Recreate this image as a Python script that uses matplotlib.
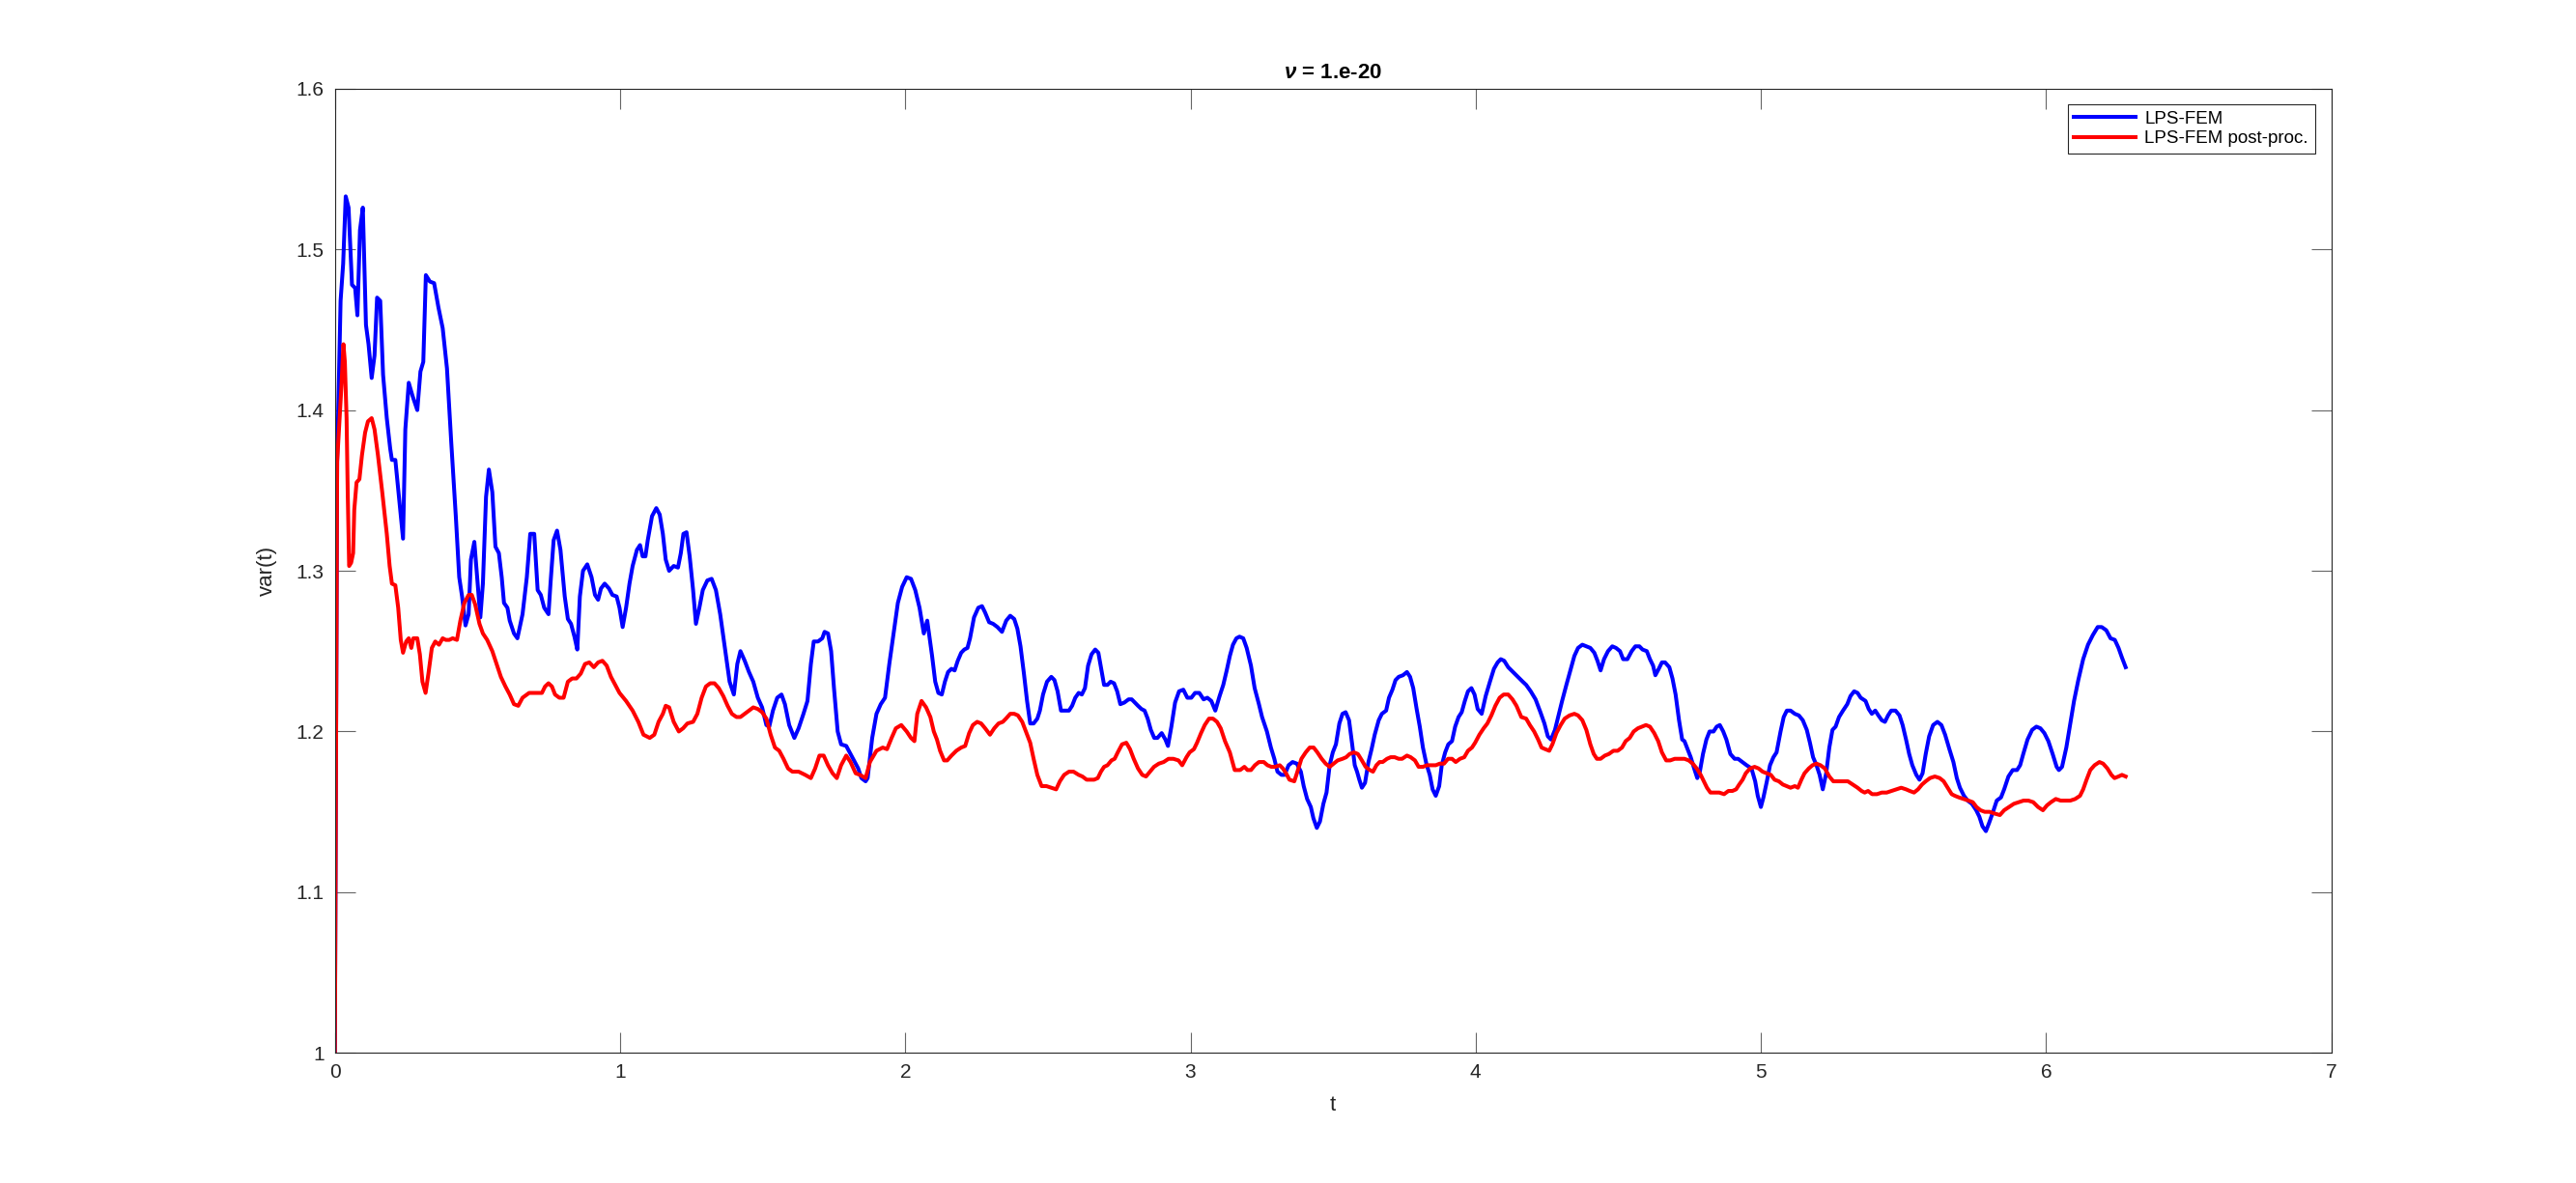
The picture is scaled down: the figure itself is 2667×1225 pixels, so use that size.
import numpy as np
import matplotlib
matplotlib.use("Agg")
import matplotlib.pyplot as plt

plt.rcParams['font.family'] = ['Liberation Sans', 'DejaVu Sans']
plt.rcParams['mathtext.fontset'] = 'custom'
plt.rcParams['mathtext.it'] = 'Liberation Sans:italic:bold'
plt.rcParams['mathtext.rm'] = 'Liberation Sans:bold'

# LPS-FEM  (t, var)
blue_pts = [
    (0, 1.0), (0.008, 1.368), (0.02, 1.468), (0.029, 1.491), (0.038, 1.533), (0.048, 1.526),
    (0.06, 1.478), (0.071, 1.476), (0.079, 1.459), (0.088, 1.512), (0.098, 1.526), (0.109, 1.453),
    (0.118, 1.441), (0.129, 1.42), (0.139, 1.434), (0.148, 1.47), (0.159, 1.468), (0.169, 1.422),
    (0.182, 1.395), (0.194, 1.376), (0.2, 1.369), (0.212, 1.369), (0.227, 1.342), (0.239, 1.32),
    (0.247, 1.388), (0.259, 1.417), (0.272, 1.409), (0.289, 1.4), (0.3, 1.424), (0.31, 1.43),
    (0.319, 1.484), (0.333, 1.48), (0.348, 1.479), (0.363, 1.464), (0.378, 1.451), (0.393, 1.426),
    (0.408, 1.38), (0.424, 1.334), (0.436, 1.296), (0.446, 1.284), (0.458, 1.266), (0.469, 1.273),
    (0.477, 1.307), (0.489, 1.318), (0.499, 1.296), (0.51, 1.271), (0.519, 1.292), (0.53, 1.346),
    (0.54, 1.363), (0.552, 1.349), (0.563, 1.315), (0.575, 1.311), (0.585, 1.296), (0.593, 1.28),
    (0.605, 1.277), (0.613, 1.269), (0.628, 1.261), (0.64, 1.258), (0.658, 1.273), (0.673, 1.296),
    (0.685, 1.323), (0.699, 1.323), (0.711, 1.288), (0.722, 1.285), (0.734, 1.277), (0.749, 1.273),
    (0.756, 1.292), (0.767, 1.319), (0.779, 1.325), (0.791, 1.313), (0.806, 1.284), (0.817, 1.27),
    (0.828, 1.267), (0.84, 1.259), (0.85, 1.251), (0.859, 1.284), (0.87, 1.3), (0.885, 1.304),
    (0.9, 1.296), (0.912, 1.285), (0.923, 1.282), (0.933, 1.289), (0.946, 1.292), (0.961, 1.289),
    (0.973, 1.285), (0.988, 1.284), (0.998, 1.277), (1.009, 1.265), (1.021, 1.277), (1.033, 1.292),
    (1.044, 1.303), (1.059, 1.313), (1.07, 1.316), (1.079, 1.309), (1.089, 1.309), (1.097, 1.319),
    (1.112, 1.334), (1.127, 1.339), (1.139, 1.335), (1.15, 1.323), (1.16, 1.307), (1.172, 1.3),
    (1.188, 1.303), (1.203, 1.302), (1.213, 1.311), (1.222, 1.323), (1.233, 1.324), (1.244, 1.309),
    (1.256, 1.288), (1.266, 1.267), (1.278, 1.277), (1.29, 1.288), (1.306, 1.294), (1.321, 1.295),
    (1.336, 1.288), (1.351, 1.273), (1.369, 1.25), (1.384, 1.231), (1.399, 1.223), (1.411, 1.242),
    (1.422, 1.25), (1.437, 1.244), (1.452, 1.237), (1.467, 1.231), (1.483, 1.221), (1.498, 1.215),
    (1.513, 1.204), (1.523, 1.203), (1.536, 1.213), (1.551, 1.221), (1.566, 1.223), (1.578, 1.217),
    (1.593, 1.204), (1.611, 1.196), (1.626, 1.202), (1.643, 1.211), (1.657, 1.219), (1.669, 1.242),
    (1.679, 1.256), (1.694, 1.256), (1.709, 1.258), (1.717, 1.262), (1.729, 1.261), (1.74, 1.25),
    (1.75, 1.227), (1.763, 1.2), (1.775, 1.192), (1.793, 1.191), (1.808, 1.186), (1.823, 1.181),
    (1.835, 1.177), (1.846, 1.171), (1.861, 1.169), (1.868, 1.171), (1.884, 1.196), (1.899, 1.211),
    (1.914, 1.217), (1.929, 1.221), (1.944, 1.242), (1.959, 1.261), (1.974, 1.28), (1.989, 1.29),
    (2.005, 1.296), (2.02, 1.295), (2.035, 1.288), (2.05, 1.277), (2.065, 1.261),
    (2.077, 1.269), (2.094, 1.247), (2.105, 1.231), (2.116, 1.224), (2.128, 1.223), (2.139, 1.231),
    (2.15, 1.237), (2.162, 1.239), (2.173, 1.238), (2.184, 1.244), (2.196, 1.249), (2.207, 1.251),
    (2.218, 1.252), (2.227, 1.258), (2.241, 1.271), (2.256, 1.277), (2.269, 1.278), (2.28, 1.274),
    (2.294, 1.268), (2.308, 1.267), (2.323, 1.265), (2.339, 1.262), (2.354, 1.269), (2.368, 1.272),
    (2.382, 1.27), (2.393, 1.264), (2.404, 1.253), (2.416, 1.236), (2.427, 1.219), (2.438, 1.205),
    (2.45, 1.205), (2.463, 1.208), (2.472, 1.213), (2.483, 1.223), (2.497, 1.231), (2.512, 1.234),
    (2.523, 1.232), (2.534, 1.225), (2.546, 1.213), (2.557, 1.213), (2.574, 1.213), (2.585, 1.216),
    (2.596, 1.221), (2.608, 1.224), (2.619, 1.223), (2.63, 1.227), (2.641, 1.241), (2.653, 1.248),
    (2.666, 1.251), (2.677, 1.249), (2.688, 1.238), (2.697, 1.229), (2.709, 1.229), (2.72, 1.231),
    (2.732, 1.23), (2.743, 1.225), (2.754, 1.217), (2.768, 1.218), (2.783, 1.22), (2.794, 1.22),
    (2.805, 1.218), (2.816, 1.216), (2.828, 1.214), (2.839, 1.213), (2.85, 1.208), (2.861, 1.201),
    (2.873, 1.196), (2.884, 1.196), (2.899, 1.199), (2.912, 1.195), (2.921, 1.191), (2.933, 1.203),
    (2.946, 1.218), (2.96, 1.225), (2.975, 1.226), (2.989, 1.221), (3.003, 1.221), (3.016, 1.224),
    (3.031, 1.224), (3.046, 1.22), (3.059, 1.221), (3.073, 1.219), (3.087, 1.213), (3.102, 1.222),
    (3.115, 1.229), (3.127, 1.238), (3.138, 1.247), (3.149, 1.254), (3.161, 1.258), (3.172, 1.259),
    (3.185, 1.258), (3.197, 1.252), (3.212, 1.241), (3.225, 1.227), (3.24, 1.217), (3.251, 1.209),
    (3.268, 1.2), (3.282, 1.19), (3.294, 1.183), (3.305, 1.175), (3.319, 1.173), (3.33, 1.173),
    (3.344, 1.179), (3.358, 1.181), (3.373, 1.18), (3.387, 1.175), (3.397, 1.166), (3.409, 1.158),
    (3.422, 1.153), (3.431, 1.146), (3.443, 1.14), (3.454, 1.144), (3.466, 1.155), (3.477, 1.162),
    (3.488, 1.179), (3.499, 1.187), (3.51, 1.192), (3.522, 1.205), (3.533, 1.211), (3.544, 1.212),
    (3.556, 1.207), (3.567, 1.192), (3.576, 1.179), (3.584, 1.175), (3.592, 1.17), (3.601, 1.165),
    (3.612, 1.168), (3.624, 1.181), (3.635, 1.189), (3.646, 1.198), (3.66, 1.207), (3.671, 1.211),
    (3.686, 1.213), (3.696, 1.221), (3.708, 1.226), (3.719, 1.232), (3.73, 1.234), (3.745, 1.235),
    (3.759, 1.237), (3.77, 1.234), (3.781, 1.227), (3.793, 1.214), (3.804, 1.203), (3.815, 1.19),
    (3.827, 1.18), (3.839, 1.173), (3.849, 1.164), (3.86, 1.16), (3.872, 1.166), (3.881, 1.179),
    (3.893, 1.187), (3.904, 1.192), (3.917, 1.194), (3.928, 1.203), (3.94, 1.209), (3.951, 1.212),
    (3.962, 1.219), (3.973, 1.225), (3.985, 1.227), (3.996, 1.223), (4.007, 1.214), (4.021, 1.211),
    (4.035, 1.222), (4.05, 1.231), (4.064, 1.239), (4.077, 1.243), (4.088, 1.245), (4.1, 1.244),
    (4.114, 1.24), (4.131, 1.237), (4.148, 1.234), (4.165, 1.231), (4.177, 1.229), (4.193, 1.225),
    (4.21, 1.22), (4.227, 1.212), (4.241, 1.205), (4.253, 1.197), (4.264, 1.195), (4.278, 1.201),
    (4.289, 1.209), (4.303, 1.219), (4.318, 1.229), (4.332, 1.238), (4.346, 1.247), (4.359, 1.252),
    (4.374, 1.254), (4.388, 1.253), (4.402, 1.252), (4.416, 1.249), (4.427, 1.244), (4.438, 1.238),
    (4.45, 1.245), (4.464, 1.25), (4.479, 1.253), (4.492, 1.252), (4.506, 1.25), (4.517, 1.245),
    (4.532, 1.245), (4.547, 1.25), (4.56, 1.253), (4.574, 1.253), (4.585, 1.251), (4.6, 1.25),
    (4.611, 1.245), (4.622, 1.241), (4.63, 1.235), (4.642, 1.239), (4.653, 1.243), (4.664, 1.243),
    (4.679, 1.24), (4.69, 1.233), (4.701, 1.223), (4.713, 1.207), (4.724, 1.195), (4.732, 1.194),
    (4.743, 1.189), (4.754, 1.184), (4.766, 1.177), (4.777, 1.171), (4.786, 1.175), (4.797, 1.186),
    (4.809, 1.195), (4.82, 1.2), (4.834, 1.2), (4.845, 1.203), (4.856, 1.204), (4.868, 1.2),
    (4.879, 1.195), (4.893, 1.186), (4.908, 1.183), (4.92, 1.183), (4.935, 1.181), (4.95, 1.179),
    (4.967, 1.177), (4.98, 1.169), (4.989, 1.16), (5.0, 1.153), (5.009, 1.159), (5.021, 1.169),
    (5.032, 1.179), (5.044, 1.184), (5.055, 1.187), (5.069, 1.2), (5.08, 1.209), (5.091, 1.213),
    (5.104, 1.213), (5.119, 1.211), (5.133, 1.21), (5.147, 1.207), (5.161, 1.201), (5.172, 1.193),
    (5.183, 1.184), (5.195, 1.179), (5.206, 1.173), (5.217, 1.164), (5.229, 1.174), (5.24, 1.19),
    (5.251, 1.201), (5.262, 1.203), (5.274, 1.209), (5.288, 1.213), (5.303, 1.217), (5.314, 1.222),
    (5.327, 1.225), (5.339, 1.224), (5.35, 1.221), (5.367, 1.219), (5.378, 1.214), (5.389, 1.211),
    (5.401, 1.213), (5.412, 1.21), (5.424, 1.207), (5.435, 1.206), (5.446, 1.21), (5.457, 1.213),
    (5.472, 1.213), (5.486, 1.21), (5.497, 1.204), (5.509, 1.195), (5.52, 1.186), (5.531, 1.179),
    (5.545, 1.173), (5.556, 1.17), (5.567, 1.174), (5.578, 1.186), (5.59, 1.197), (5.604, 1.204),
    (5.619, 1.206), (5.633, 1.204), (5.646, 1.198), (5.661, 1.189), (5.675, 1.181), (5.687, 1.171),
    (5.698, 1.165), (5.712, 1.16), (5.725, 1.157), (5.74, 1.155), (5.755, 1.151), (5.766, 1.147),
    (5.777, 1.141), (5.789, 1.138), (5.8, 1.143), (5.814, 1.15), (5.827, 1.157), (5.842, 1.159),
    (5.853, 1.164), (5.868, 1.172), (5.883, 1.176), (5.898, 1.176), (5.909, 1.179), (5.92, 1.186),
    (5.935, 1.195), (5.951, 1.201), (5.966, 1.203), (5.98, 1.202), (5.994, 1.199), (6.008, 1.194),
    (6.023, 1.186), (6.037, 1.178), (6.045, 1.176), (6.056, 1.178), (6.071, 1.19), (6.085, 1.205),
    (6.098, 1.219), (6.113, 1.232), (6.13, 1.245), (6.147, 1.254), (6.164, 1.26), (6.181, 1.265),
    (6.195, 1.265), (6.211, 1.263), (6.226, 1.258), (6.241, 1.257), (6.254, 1.252), (6.266, 1.246),
    (6.279, 1.24),
]

# LPS-FEM post-proc.  (t, var)
red_pts = [
    (0, 1.0), (0.008, 1.368), (0.015, 1.39), (0.023, 1.415), (0.03, 1.441), (0.035, 1.43),
    (0.041, 1.395), (0.045, 1.349), (0.05, 1.303), (0.057, 1.305), (0.064, 1.311), (0.068, 1.338),
    (0.076, 1.355), (0.086, 1.357), (0.095, 1.372), (0.106, 1.386), (0.116, 1.393), (0.129, 1.395),
    (0.139, 1.388), (0.151, 1.372), (0.166, 1.349), (0.182, 1.323), (0.192, 1.303), (0.2, 1.292),
    (0.212, 1.291), (0.222, 1.277), (0.231, 1.257), (0.239, 1.249), (0.25, 1.256), (0.259, 1.258),
    (0.268, 1.252), (0.275, 1.258), (0.289, 1.258), (0.298, 1.248), (0.307, 1.231), (0.318, 1.224),
    (0.328, 1.236), (0.34, 1.252), (0.352, 1.256), (0.365, 1.254), (0.378, 1.258), (0.389, 1.257),
    (0.401, 1.257), (0.413, 1.258), (0.428, 1.257), (0.44, 1.269), (0.454, 1.28), (0.469, 1.285),
    (0.48, 1.285), (0.492, 1.279), (0.507, 1.267), (0.519, 1.261), (0.534, 1.257), (0.552, 1.25),
    (0.567, 1.242), (0.582, 1.234), (0.598, 1.228), (0.613, 1.223), (0.628, 1.217), (0.643, 1.216),
    (0.658, 1.221), (0.681, 1.224), (0.703, 1.224), (0.726, 1.224), (0.737, 1.228), (0.749, 1.23),
    (0.761, 1.228), (0.772, 1.223), (0.787, 1.221), (0.802, 1.221), (0.817, 1.231), (0.832, 1.233),
    (0.847, 1.233), (0.862, 1.236), (0.877, 1.242), (0.892, 1.243), (0.908, 1.24), (0.923, 1.243),
    (0.938, 1.244), (0.953, 1.241), (0.968, 1.234), (0.983, 1.229), (0.998, 1.224), (1.021, 1.219),
    (1.044, 1.213), (1.064, 1.206), (1.082, 1.198), (1.104, 1.196), (1.12, 1.198), (1.135, 1.206),
    (1.15, 1.211), (1.16, 1.216), (1.172, 1.215), (1.188, 1.206), (1.206, 1.2), (1.221, 1.202),
    (1.236, 1.205), (1.256, 1.206), (1.271, 1.211), (1.286, 1.221), (1.301, 1.228), (1.316, 1.23),
    (1.331, 1.23), (1.346, 1.227), (1.362, 1.222), (1.377, 1.216), (1.392, 1.211), (1.408, 1.209),
    (1.422, 1.209), (1.437, 1.211), (1.452, 1.213), (1.467, 1.215), (1.483, 1.214), (1.498, 1.212),
    (1.513, 1.208), (1.528, 1.198), (1.543, 1.19), (1.558, 1.188), (1.573, 1.183), (1.589, 1.177),
    (1.604, 1.175), (1.626, 1.175), (1.649, 1.173), (1.669, 1.171), (1.684, 1.177), (1.699, 1.185),
    (1.714, 1.185), (1.729, 1.179), (1.745, 1.174), (1.76, 1.171), (1.775, 1.179), (1.793, 1.185),
    (1.808, 1.181), (1.826, 1.174), (1.841, 1.173), (1.861, 1.171), (1.876, 1.181), (1.899, 1.188),
    (1.921, 1.19), (1.936, 1.189), (1.952, 1.196), (1.967, 1.202), (1.986, 1.204), (2.005, 1.2),
    (2.02, 1.196), (2.032, 1.194), (2.042, 1.211), (2.057, 1.219), (2.073, 1.215), (2.088, 1.209),
    (2.1, 1.2), (2.111, 1.195), (2.122, 1.188), (2.136, 1.182), (2.147, 1.182), (2.162, 1.185),
    (2.179, 1.188), (2.196, 1.19), (2.21, 1.191), (2.224, 1.199), (2.237, 1.204), (2.252, 1.206),
    (2.266, 1.205), (2.28, 1.202), (2.297, 1.198), (2.312, 1.202), (2.327, 1.205), (2.342, 1.206),
    (2.353, 1.208), (2.368, 1.211), (2.382, 1.211), (2.395, 1.21), (2.41, 1.206), (2.425, 1.199),
    (2.438, 1.193), (2.45, 1.183), (2.463, 1.173), (2.478, 1.166), (2.495, 1.166), (2.512, 1.165),
    (2.529, 1.164), (2.542, 1.169), (2.557, 1.173), (2.574, 1.175), (2.59, 1.175), (2.608, 1.173),
    (2.621, 1.172), (2.636, 1.17), (2.647, 1.17), (2.662, 1.17), (2.675, 1.171), (2.686, 1.175),
    (2.697, 1.178), (2.709, 1.179), (2.723, 1.182), (2.734, 1.183), (2.745, 1.187), (2.76, 1.192),
    (2.775, 1.193), (2.788, 1.189), (2.801, 1.183), (2.816, 1.177), (2.831, 1.173), (2.844, 1.172),
    (2.858, 1.175), (2.872, 1.178), (2.889, 1.18), (2.906, 1.181), (2.923, 1.183), (2.94, 1.183),
    (2.958, 1.182), (2.971, 1.179), (2.986, 1.184), (2.997, 1.187), (3.012, 1.189), (3.023, 1.193),
    (3.037, 1.199), (3.05, 1.204), (3.065, 1.208), (3.079, 1.208), (3.093, 1.206), (3.106, 1.202),
    (3.121, 1.194), (3.138, 1.187), (3.155, 1.176), (3.174, 1.176), (3.189, 1.178), (3.2, 1.176),
    (3.212, 1.176), (3.226, 1.179), (3.24, 1.181), (3.257, 1.181), (3.27, 1.179), (3.284, 1.178),
    (3.297, 1.178), (3.313, 1.179), (3.324, 1.177), (3.335, 1.174), (3.347, 1.17), (3.364, 1.169),
    (3.375, 1.175), (3.389, 1.183), (3.404, 1.187), (3.418, 1.19), (3.432, 1.19), (3.445, 1.187),
    (3.46, 1.183), (3.474, 1.18), (3.488, 1.178), (3.502, 1.18), (3.516, 1.182), (3.533, 1.183),
    (3.546, 1.184), (3.558, 1.186), (3.573, 1.187), (3.587, 1.186), (3.601, 1.182), (3.614, 1.178),
    (3.629, 1.176), (3.64, 1.175), (3.652, 1.179), (3.663, 1.181), (3.674, 1.181), (3.689, 1.183),
    (3.702, 1.184), (3.716, 1.184), (3.73, 1.183), (3.742, 1.183), (3.759, 1.185), (3.772, 1.184),
    (3.787, 1.182), (3.8, 1.178), (3.815, 1.178), (3.829, 1.179), (3.843, 1.179), (3.86, 1.179),
    (3.874, 1.18), (3.889, 1.18), (3.903, 1.183), (3.917, 1.183), (3.93, 1.181), (3.945, 1.183),
    (3.96, 1.184), (3.973, 1.188), (3.987, 1.19), (3.998, 1.193), (4.013, 1.198), (4.028, 1.202),
    (4.041, 1.205), (4.055, 1.21), (4.069, 1.216), (4.084, 1.221), (4.098, 1.223), (4.114, 1.223),
    (4.129, 1.22), (4.143, 1.216), (4.16, 1.209), (4.177, 1.208), (4.19, 1.204), (4.205, 1.2),
    (4.219, 1.195), (4.231, 1.19), (4.244, 1.189), (4.258, 1.188), (4.269, 1.192), (4.283, 1.199),
    (4.298, 1.204), (4.312, 1.208), (4.329, 1.21), (4.346, 1.211), (4.359, 1.21), (4.374, 1.207),
    (4.388, 1.201), (4.402, 1.192), (4.414, 1.186), (4.425, 1.183), (4.438, 1.183), (4.453, 1.185),
    (4.467, 1.186), (4.483, 1.188), (4.498, 1.188), (4.513, 1.19), (4.526, 1.194), (4.54, 1.196),
    (4.554, 1.2), (4.569, 1.202), (4.583, 1.203), (4.597, 1.204), (4.611, 1.203), (4.626, 1.199),
    (4.64, 1.194), (4.653, 1.187), (4.668, 1.182), (4.682, 1.182), (4.698, 1.183), (4.716, 1.183),
    (4.732, 1.183), (4.747, 1.182), (4.761, 1.18), (4.775, 1.177), (4.789, 1.173), (4.8, 1.169),
    (4.811, 1.165), (4.823, 1.162), (4.837, 1.162), (4.854, 1.162), (4.871, 1.161), (4.886, 1.163),
    (4.9, 1.163), (4.913, 1.164), (4.924, 1.167), (4.936, 1.17), (4.947, 1.174), (4.962, 1.177),
    (4.978, 1.178), (4.992, 1.177), (5.006, 1.175), (5.021, 1.174), (5.035, 1.173), (5.048, 1.17),
    (5.063, 1.169), (5.077, 1.167), (5.091, 1.166), (5.104, 1.165), (5.119, 1.166), (5.13, 1.165),
    (5.142, 1.17), (5.153, 1.174), (5.168, 1.177), (5.181, 1.179), (5.195, 1.18), (5.209, 1.179),
    (5.224, 1.177), (5.24, 1.172), (5.254, 1.169), (5.271, 1.169), (5.288, 1.169), (5.305, 1.169),
    (5.322, 1.167), (5.339, 1.165), (5.353, 1.163), (5.364, 1.162), (5.376, 1.163), (5.39, 1.161),
    (5.407, 1.161), (5.424, 1.162), (5.441, 1.162), (5.458, 1.163), (5.475, 1.164), (5.492, 1.165),
    (5.509, 1.164), (5.522, 1.163), (5.537, 1.162), (5.551, 1.164), (5.565, 1.167), (5.578, 1.169),
    (5.593, 1.171), (5.61, 1.172), (5.627, 1.171), (5.641, 1.169), (5.655, 1.165), (5.669, 1.161),
    (5.68, 1.16), (5.694, 1.159), (5.711, 1.158), (5.728, 1.157), (5.743, 1.156), (5.756, 1.153),
    (5.77, 1.151), (5.785, 1.15), (5.802, 1.15), (5.818, 1.149), (5.838, 1.148), (5.853, 1.151),
    (5.87, 1.153), (5.887, 1.155), (5.904, 1.156), (5.921, 1.157), (5.938, 1.157), (5.955, 1.156),
    (5.972, 1.153), (5.989, 1.151), (6.003, 1.154), (6.017, 1.156), (6.034, 1.158), (6.051, 1.157),
    (6.068, 1.157), (6.085, 1.157), (6.102, 1.158), (6.119, 1.16), (6.13, 1.164), (6.142, 1.17),
    (6.155, 1.176), (6.17, 1.179), (6.187, 1.181), (6.2, 1.18), (6.215, 1.177), (6.229, 1.173),
    (6.24, 1.171), (6.254, 1.172), (6.266, 1.173), (6.279, 1.172),
]

x_ticks = [0, 1, 2, 3, 4, 5, 6, 7]
y_ticks = [1.0, 1.1, 1.2, 1.3, 1.4, 1.5, 1.6]
y_tick_labels = ['1', '1.1', '1.2', '1.3', '1.4', '1.5', '1.6']

blue = np.array(blue_pts)
red = np.array(red_pts)

fig = plt.figure(figsize=(26.67, 12.25), dpi=100)
ax = fig.add_axes([0.13, 0.11, 0.775, 0.815])

ax.plot(blue[:, 0], blue[:, 1], color=(0, 0, 1), lw=2.9, label='LPS-FEM')
ax.plot(red[:, 0], red[:, 1], color=(1, 0, 0), lw=2.9, label='LPS-FEM post-proc.')

ax.set_xlim(0, 7)
ax.set_ylim(1, 1.6)
ax.set_xticks(x_ticks)
ax.set_xticklabels([str(v) for v in x_ticks])
ax.set_yticks(y_ticks)
ax.set_yticklabels(y_tick_labels)

dark = (0.15, 0.15, 0.15)
for s in ax.spines.values():
    s.set_color(dark)
    s.set_linewidth(0.8)
ax.tick_params(direction='in', length=15, width=0.8, color=(0.4, 0.4, 0.4),
               labelcolor=dark, labelsize=15, top=True, right=True, pad=8)

ax.set_xlabel('t', fontsize=16, color=dark, labelpad=10)
ax.set_ylabel('var(t)', fontsize=16, color=dark, labelpad=14)
ax.set_title(r'$\nu$ = 1.e-20', fontsize=16, fontweight='bold', color='black', pad=8)

leg = ax.legend(loc='upper right', bbox_to_anchor=(1 - 17 / 2067, 1 - 16 / 998),
                borderaxespad=0, fontsize=13.5, fancybox=False, framealpha=1,
                edgecolor=dark, handlelength=3.4, borderpad=0.35, labelspacing=0.2,
                handletextpad=0.5)
leg.get_frame().set_linewidth(0.8)

fig.savefig('out.png', dpi=100, facecolor='white')
